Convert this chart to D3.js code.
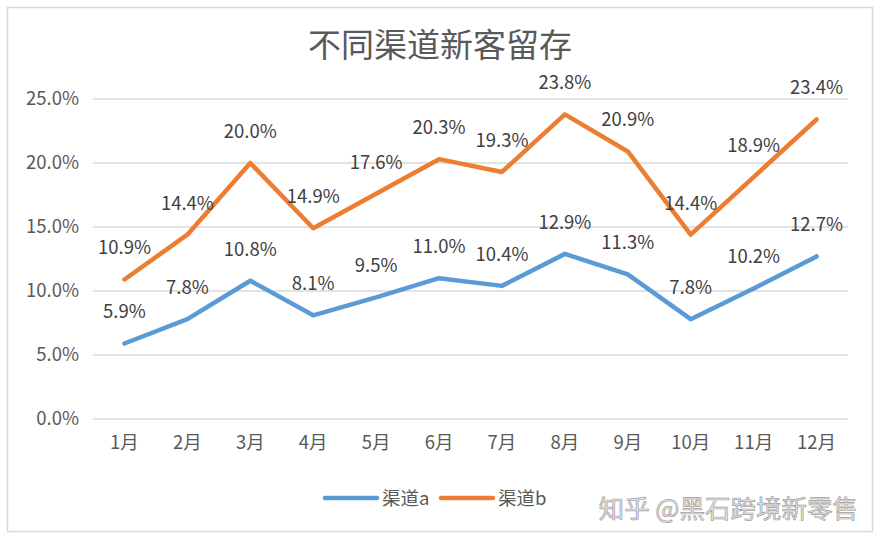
<!DOCTYPE html>
<html><head><meta charset="utf-8">
<script src="https://cdn.jsdelivr.net/npm/d3@7/dist/d3.min.js"></script>
<style>body{margin:0;background:#fff;}svg{display:block;font-family:"Noto Sans CJK SC","Noto Sans",sans-serif;}</style>
</head><body><svg id="c" width="881" height="541"></svg>
<script>
const months = ["1月","2月","3月","4月","5月","6月","7月","8月","9月","10月","11月","12月"];
const seriesA = [5.9,7.8,10.8,8.1,9.5,11.0,10.4,12.9,11.3,7.8,10.2,12.7];
const seriesB = [10.9,14.4,20.0,14.9,17.6,20.3,19.3,23.8,20.9,14.4,18.9,23.4];
const yTicks = [0,5,10,15,20,25];
const seriesNames = ["渠道a","渠道b"];
const colors = ["#5B9BD5","#ED7D31"];

const svg = d3.select("#c");
svg.append("rect").attr("x",7.5).attr("y",7.5).attr("width",865).attr("height",524)
  .attr("fill","#fff").attr("stroke","#d9d9d9").attr("stroke-width",1.5);

svg.append("text").attr("x",440).attr("y",57).attr("text-anchor","middle")
  .attr("font-size",33).attr("fill","#595959").text("不同渠道新客留存");

const x = d3.scaleBand().domain(months).range([93,848]);
const y = d3.scaleLinear().domain([0,25]).range([419,99]);

const grid = svg.append("g");
grid.selectAll("line").data(yTicks).join("line")
  .attr("x1",93).attr("x2",848).attr("y1",d=>y(d)).attr("y2",d=>y(d))
  .attr("stroke","#d9d9d9").attr("stroke-width",1.5);

const yAxis = svg.append("g").attr("transform","translate(79,0)")
  .call(d3.axisLeft(y).tickValues(yTicks).tickFormat(d=>d.toFixed(1)+"%").tickSize(0).tickPadding(0));
yAxis.select(".domain").remove();
yAxis.selectAll("text").attr("font-size",18.5).attr("fill","#595959").attr("font-family","'Noto Sans CJK SC',sans-serif");

const xAxis = svg.append("g").attr("transform","translate(0,436)")
  .call(d3.axisBottom(x).tickSize(0).tickPadding(0));
xAxis.select(".domain").remove();
xAxis.selectAll("text").attr("font-size",18.5).attr("fill","#595959").attr("dy","0.71em").attr("font-family","'Noto Sans CJK SC',sans-serif");

const cx = d => x(d) + x.bandwidth()/2;
const line = d3.line().x(d=>cx(d.m)).y(d=>y(d.v));
[seriesA, seriesB].forEach((s,i)=>{
  const pts = s.map((v,j)=>({m:months[j],v}));
  svg.append("path").datum(pts).attr("d",line).attr("fill","none")
    .attr("stroke",colors[i]).attr("stroke-width",4.5).attr("stroke-linejoin","round").attr("stroke-linecap","round");
  svg.append("g").selectAll("text").data(pts).join("text")
    .attr("x",d=>cx(d.m)).attr("y",d=>y(d.v)-25).attr("text-anchor","middle")
    .attr("font-size",18.5).attr("fill","#404040").text(d=>d.v.toFixed(1)+"%");
});

const leg = svg.append("g");
const legX = [325,441];
seriesNames.forEach((n,i)=>{
  leg.append("line").attr("x1",legX[i]).attr("x2",legX[i]+52).attr("y1",498).attr("y2",498)
    .attr("stroke",colors[i]).attr("stroke-width",4.5).attr("stroke-linecap","round");
  leg.append("text").attr("x",legX[i]+57).attr("y",505).attr("font-size",18.5).attr("fill","#595959").text(n);
});

svg.append("text").attr("x",858).attr("y",518).attr("text-anchor","end").attr("font-size",25.5)
  .attr("fill","#e6e6e6").attr("stroke","#a0a0a0").attr("stroke-width",0.7).text("知乎 @黑石跨境新零售");
</script></body></html>
